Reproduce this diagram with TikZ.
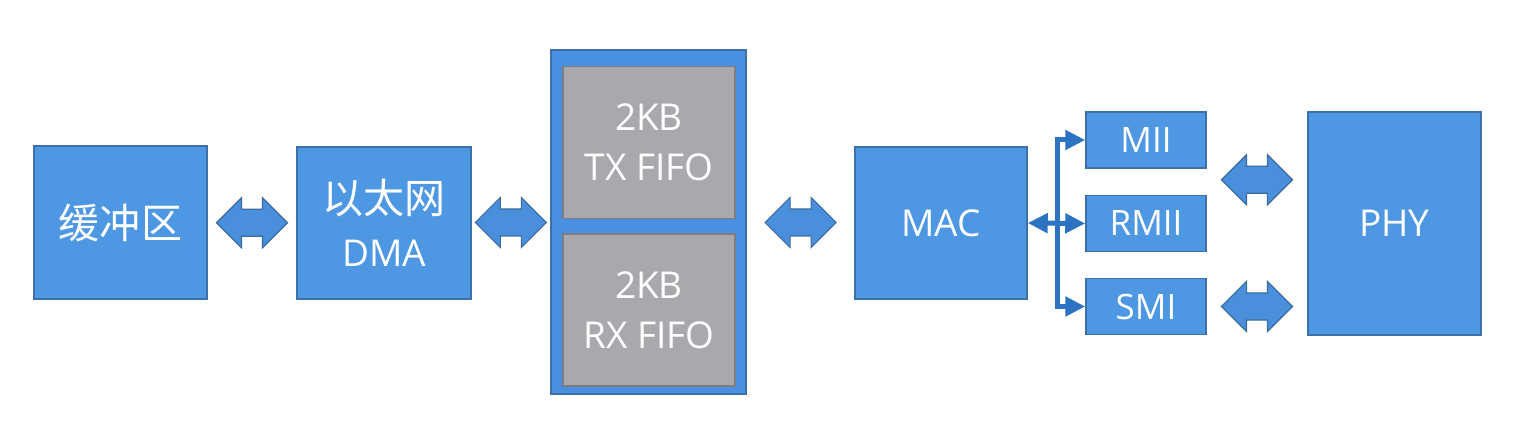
\documentclass[tikz,border=0pt]{standalone}
\usepackage{fontspec}
\setmainfont{Open Sans}
\newfontfamily\cjk[Scale=1.11]{Noto Sans CJK SC}
\usetikzlibrary{calc,arrows.meta}
\definecolor{boxfill}{HTML}{4E97E3}
\definecolor{boxline}{HTML}{3D6FA8}
\definecolor{outfill}{HTML}{4A90E2}
\definecolor{grayfill}{HTML}{A9A8AD}
\definecolor{grayline}{HTML}{7E7C80}
\definecolor{busblue}{HTML}{2C73C2}
\definecolor{arrfill}{HTML}{4A8FDB}
\definecolor{arrline}{HTML}{3B6C9F}
\begin{document}
\begin{tikzpicture}[x=1pt,y=-1pt,
  blk/.style={draw=boxline,fill=boxfill,line width=1.5pt,text=white,align=center,inner sep=0pt,
    font=\fontsize{37}{53}\selectfont},
  small/.style={blk,minimum width=120pt,minimum height=56pt,font=\fontsize{35}{40}\selectfont},
  graybox/.style={draw=grayline,fill=grayfill,line width=1.5pt,text=white,align=center,inner sep=0pt,
    minimum width=172pt,minimum height=152pt,font=\fontsize{37}{50}\selectfont},
  outer/.style={draw=boxline,fill=outfill,line width=2pt,inner sep=0pt},
  barrow/.style={draw=arrline,fill=arrfill,line width=1.2pt,line join=miter},
  bus/.style={draw=busblue,line width=5pt,line join=miter,
    arrows={Triangle[length=20pt,width=19pt]-Triangle[length=20pt,width=19pt]}}]
\fill[white] (0,0) rectangle (1523,430);
\useasboundingbox (0,0) rectangle (1523,430);

\node[blk,minimum width=173pt,minimum height=153pt] (buf) at (120.5,222.5) {\cjk 缓冲区};
\node[blk,minimum width=174pt,minimum height=152pt] (dma) at (384,223) {{\cjk 以太网}\\DMA};
\node[outer,minimum width=195pt,minimum height=344pt] (fifo) at (648.5,222) {};
\node[graybox] (tx) at (649,142.5) {2KB\\TX FIFO};
\node[graybox] (rx) at (649,310) {2KB\\RX FIFO};
\node[blk,minimum width=172pt,minimum height=152pt] (mac) at (941,223) {MAC};
\node[small] (mii) at (1146,140) {MII};
\node[small] (rmii) at (1146,223.5) {RMII};
\node[small] (smi) at (1146,306.5) {SMI};
\node[blk,minimum width=173pt,minimum height=223pt] (phy) at (1394.5,223.5) {PHY};

\newcommand{\dblarrow}[1]{%
  \draw[barrow] (#1) ++(-35.5,0) -- ++(25,-25) -- ++(0,11.5) -- ++(21,0) -- ++(0,-11.5)
    -- ++(25,25) -- ++(-25,25) -- ++(0,-11.5) -- ++(-21,0) -- ++(0,11.5) -- cycle;}
\dblarrow{$(buf.east)!0.5!(dma.west)$}
\dblarrow{$(dma.east)!0.5!(fifo.west)$}
\dblarrow{$(fifo.east)!0.5!(mac.west)$}
\dblarrow{$(mii.east)!0.5!(phy.west)+(0,-2)$}
\dblarrow{$(smi.east)!0.5!(smi.east -| phy.west)$}

\draw[bus] (mac.east) -- (rmii.west);
\draw[bus] (mii.west) -- ++(-28,0) |- (smi.west);
\end{tikzpicture}
\end{document}
